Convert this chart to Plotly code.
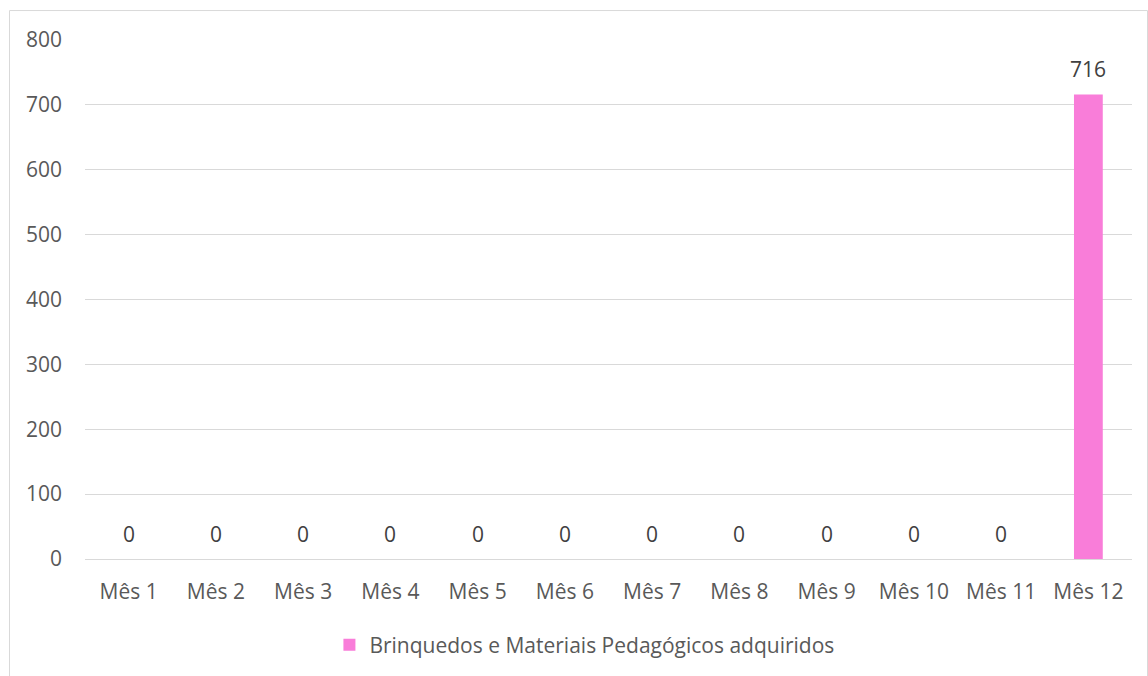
import plotly.graph_objects as go

# Monthly acquisitions of toys and teaching materials
meses = ["Mês 1", "Mês 2", "Mês 3", "Mês 4", "Mês 5", "Mês 6",
         "Mês 7", "Mês 8", "Mês 9", "Mês 10", "Mês 11", "Mês 12"]
adquiridos = [0, 0, 0, 0, 0, 0, 0, 0, 0, 0, 0, 716]
serie_nome = "Brinquedos e Materiais Pedagógicos adquiridos"
y_ticks = [0, 100, 200, 300, 400, 500, 600, 700, 800]

W, H = 1148, 676
ml, mr, mt, mb = 85, 16, 40, 116
pw, ph = W - ml - mr, H - mt - mb
FONT = "Open Sans, Liberation Sans, sans-serif"
FS = 21

fig = go.Figure(go.Bar(
    x=meses, y=adquiridos, name=serie_nome,
    marker=dict(color="#F97DD9", line=dict(width=0)),
    cliponaxis=False,
))

# Value labels above each bar
for m, v in zip(meses, adquiridos):
    fig.add_annotation(x=m, y=v, text=str(v), showarrow=False,
                       yanchor="middle", yshift=25,
                       font=dict(family=FONT, size=FS, color="#404040"))

# Light frame around the whole chart
def px_x(px):
    return (px - ml) / pw

def px_y(py):
    return (H - mb - py) / ph

fig.add_shape(type="rect", xref="paper", yref="paper",
              x0=px_x(9.5), x1=px_x(1147.5), y0=px_y(690), y1=px_y(10.5),
              line=dict(color="#D9D9D9", width=1), fillcolor="rgba(0,0,0,0)",
              layer="below")

fig.update_layout(
    width=W, height=H,
    margin=dict(l=ml, r=mr, t=mt, b=mb),
    paper_bgcolor="white", plot_bgcolor="white",
    font=dict(family=FONT, size=FS, color="#595959"),
    bargap=0.67,
    showlegend=True,
    legend=dict(orientation="h", x=0.477, xanchor="center", y=px_y(645), yanchor="middle",
                font=dict(family=FONT, size=FS, color="#595959"), itemwidth=30),
    xaxis=dict(showgrid=False, showline=True, linecolor="#D9D9D9", linewidth=1,
               ticks="", ticklabelstandoff=14,
               tickfont=dict(family=FONT, size=FS, color="#595959")),
    yaxis=dict(range=[0, 800], tickvals=y_ticks, showgrid=True, gridcolor="#D9D9D9",
               gridwidth=1, zeroline=False, showline=False, ticks="",
               ticklabelstandoff=22,
               tickfont=dict(family=FONT, size=FS, color="#595959")),
)

fig.write_html("out.html")
